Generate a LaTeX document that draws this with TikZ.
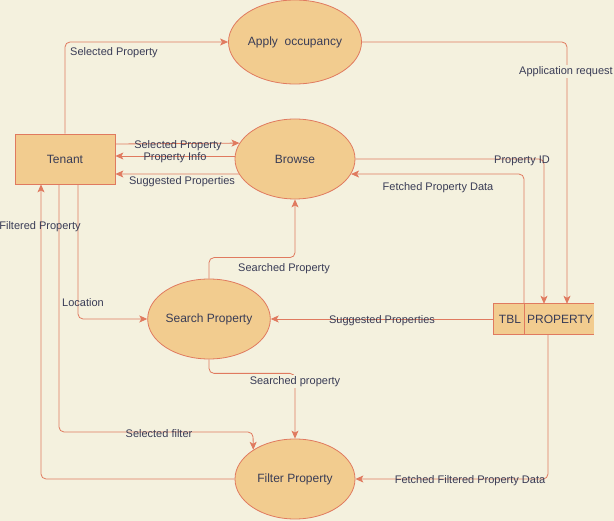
\documentclass[tikz,border=0pt]{standalone}
\usepackage{fontspec}
\setmainfont{Liberation Sans}
\usetikzlibrary{shapes.geometric,arrows.meta,calc}
\definecolor{bgc}{HTML}{F4F1DE}
\definecolor{fillc}{HTML}{F2CC8F}
\definecolor{linec}{HTML}{E07A5F}
\definecolor{textc}{HTML}{393C56}
\tikzset{
  proc/.style={ellipse,draw=linec,fill=fillc,line width=0.8pt,minimum width=120pt,minimum height=80pt,inner sep=0pt,text=textc,font=\fontsize{12}{14}\selectfont},
  ent/.style={rectangle,draw=linec,fill=fillc,line width=0.8pt,minimum width=100pt,minimum height=50pt,inner sep=0pt,text=textc,font=\fontsize{12}{14}\selectfont},
  flow/.style={draw=linec,line width=0.8pt,rounded corners=5pt,-{Stealth[length=8pt,width=7pt,inset=2pt]}},
  lbl/.style={text=textc,font=\fontsize{11}{13}\selectfont,inner sep=0pt,yshift=-1.5pt},
  lblbg/.style={lbl,fill=bgc,inner sep=1.5pt},
  txt/.style={text=textc,font=\fontsize{12}{14}\selectfont,inner sep=0pt}
}
\begin{document}
\begin{tikzpicture}[x=1pt,y=-1pt]
\useasboundingbox (0,0) rectangle (614,521);
\fill[bgc] (0,0) rectangle (614,521);

% nodes
\node[proc,minimum width=126pt,minimum height=84pt] (apply) at (295,42) {Apply\ \ occupancy};
\node[proc] (browse) at (295,159) {Browse};
\node[ent] (tenant) at (65,159) {Tenant};
\node[proc] (search) at (209,319) {Search Property};
\node[proc] (filter) at (295,479) {Filter Property};
\node[rectangle,fill=fillc,minimum width=100pt,minimum height=30pt,inner sep=0pt] (tbl) at (544,319) {};
\draw[linec,line width=0.8pt] (tbl.north east) -- (tbl.north west) -- (tbl.south west) -- (tbl.south east);
\node[txt] (tbltxt) at (510,319) {TBL};
\node[txt] (proptxt) at (560,319) {PROPERTY};

% connectors
\draw[flow] (tenant.north) |- (apply.west);
\draw[flow] (apply.east) -| ($(tbl.north)+(23,0)$);
\draw[flow] ($(tenant.east)+(0,-15)$) -- (browse.164.9);
\draw[flow] ($(browse.west)+(0,-3)$) -- ($(tenant.east)+(0,-3)$);
\draw[flow] (browse.195.1) -- ($(tenant.east)+(0,15)$);
\draw[flow] (browse.east) -| (tbl.north);
\draw[flow] ($(tbl.north)+(-20,0)$) |- (browse.-15.1);
\draw[linec,line width=0.8pt] ($(tbl.north)+(-20,0)$) -- ($(tbl.south)+(-20,0)$);
\draw[flow] (search.north) -- ++(0,-21) -| (browse.south);
\draw[flow] ($(tenant.south)+(13,0)$) |- (search.west);
\draw[flow] (filter.west) -| ($(tenant.south)+(-24,0)$);
\draw[flow] ($(tenant.south)+(-6,0)$) |- ($(filter.center)+(-42,-47)$) -- (filter.145.75);
\draw[flow] (search.south) -- ++(0,14) -| (filter.north);
\draw[flow] ($(tbl.south)+(4,0)$) |- (filter.east);
\draw[flow] (tbl.west) -- (search.east);

% labels
\node[lbl,anchor=west] (l1) at (70,51) {Selected Property};
\node[lblbg] (l2) at (566,70) {Application request};
\node[lbl] (l3) at (178,144) {Selected Property};
\node[lbl] (l4) at (175,156) {Property Info};
\node[lbl] (l5) at (182,180) {Suggested Properties};
\node[lbl] (l6) at (522,159) {Property ID};
\node[lbl] (l7) at (438,186) {Fetched Property Data};
\node[lbl,anchor=west] (l8) at (238,267) {Searched Property};
\node[lbl] (l9) at (83,301) {Location};
\node[lbl] (l10) at (40,225) {Filtered Property};
\node[lbl] (l11) at (159,432) {Selected filter};
\node[lblbg] (l12) at (295,380) {Searched property};
\node[lbl] (l13) at (470,479) {Fetched Filtered Property Data};
\node[lbl] (l14) at (382,319) {Suggested Properties};
\end{tikzpicture}
\end{document}
